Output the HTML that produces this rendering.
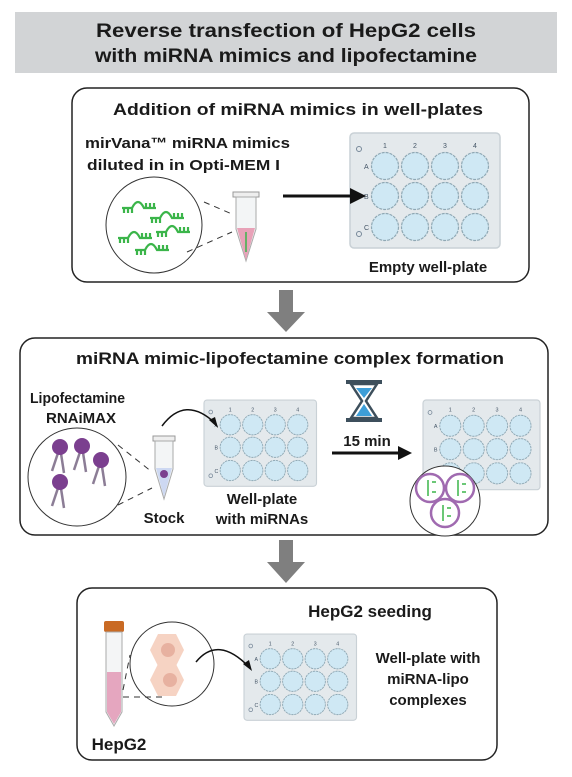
<!DOCTYPE html>
<html><head><meta charset="utf-8"><style>
html,body{margin:0;padding:0;background:#fff;}
svg{display:block;font-family:"Liberation Sans",sans-serif;}
text{font-weight:bold;fill:#1a1a1a;}
</style></head><body>
<svg width="572" height="777" viewBox="0 0 572 777">
<defs>
<g id="plate">
<rect x="0" y="0" width="150" height="115" rx="4" fill="#e4e9ec" stroke="#c9d1d6" stroke-width="1.5"/>
<g fill="#cfe8f4" stroke="#8fa8b4" stroke-width="1.2" stroke-dasharray="3 1">
<circle cx="35" cy="33" r="13.5"/><circle cx="65" cy="33" r="13.5"/><circle cx="95" cy="33" r="13.5"/><circle cx="125" cy="33" r="13.5"/>
<circle cx="35" cy="63" r="13.5"/><circle cx="65" cy="63" r="13.5"/><circle cx="95" cy="63" r="13.5"/><circle cx="125" cy="63" r="13.5"/>
<circle cx="35" cy="94" r="13.5"/><circle cx="65" cy="94" r="13.5"/><circle cx="95" cy="94" r="13.5"/><circle cx="125" cy="94" r="13.5"/>
</g>
<g font-size="7" font-weight="normal" fill="#456">
<text x="33" y="15" style="font-weight:normal;fill:#456">1</text><text x="63" y="15" style="font-weight:normal;fill:#456">2</text><text x="93" y="15" style="font-weight:normal;fill:#456">3</text><text x="123" y="15" style="font-weight:normal;fill:#456">4</text>
<text x="14" y="36" style="font-weight:normal;fill:#456">A</text><text x="14" y="66" style="font-weight:normal;fill:#456">B</text><text x="14" y="97" style="font-weight:normal;fill:#456">C</text>
</g>
<circle cx="9" cy="16" r="2.5" fill="none" stroke="#789"/><circle cx="9" cy="101" r="2.5" fill="none" stroke="#789"/>
</g>
<g id="rna" stroke="#3bb54a" stroke-width="2.2" fill="none">
<path d="M0 0 h10 q6 -12 12 0 h12"/>
<path d="M2 0 v5 M6 0 v5 M10 0 v5 M24 0 v-5 M28 0 v-5 M32 0 v-5"/>
</g>
<g id="lipo"><line x1="0" y1="0" x2="-8" y2="24" stroke="#8c7d96" stroke-width="2.5"/><line x1="0" y1="0" x2="4" y2="26" stroke="#8c7d96" stroke-width="2.5"/><circle r="8" fill="#7b3f8f"/></g>
</defs>

<rect x="15" y="12" width="542" height="61" fill="#d2d4d6"/>
<text x="286" y="37" text-anchor="middle" font-size="19" textLength="380" lengthAdjust="spacingAndGlyphs">Reverse transfection of HepG2 cells</text>
<text x="286" y="62" text-anchor="middle" font-size="19" textLength="382" lengthAdjust="spacingAndGlyphs">with miRNA mimics and lipofectamine</text>

<g>
<rect x="72" y="88" width="457" height="194" rx="15" fill="#fff" stroke="#222" stroke-width="1.5"/>
<text x="298" y="115" text-anchor="middle" font-size="17" textLength="370" lengthAdjust="spacingAndGlyphs">Addition of miRNA mimics in well-plates</text>
<text x="85" y="148" font-size="15" textLength="205" lengthAdjust="spacingAndGlyphs">mirVana™ miRNA mimics</text>
<text x="87" y="170" font-size="15" textLength="193" lengthAdjust="spacingAndGlyphs">diluted in in Opti-MEM I</text>
<circle cx="154" cy="225" r="48" fill="#fff" stroke="#333" stroke-width="1"/>
<use href="#rna" x="122" y="208"/><use href="#rna" x="150" y="218"/><use href="#rna" x="118" y="238"/><use href="#rna" x="156" y="232"/><use href="#rna" x="135" y="250"/>
<path d="M204 202 L232 214 M187 252 L232 232" stroke="#333" stroke-dasharray="6 5"/>
<g>
<rect x="233" y="192" width="26" height="5" fill="#eee" stroke="#999"/>
<path d="M236 197 h20 v32 l-10 32 l-10 -32 z" fill="#f3f5f6" stroke="#aaa"/>
<path d="M237 228 h18 l-9 32 z" fill="#e8a2b8"/>
<path d="M246 232 v20" stroke="#3bb54a" stroke-width="1.5"/>
</g>
<g transform="translate(350,133)"><use href="#plate"/></g>
<line x1="283" y1="196" x2="352" y2="196" stroke="#111" stroke-width="3"/>
<path d="M350 188 L366 196 L350 204 z" fill="#111"/>
<text x="428" y="272" text-anchor="middle" font-size="15">Empty well-plate</text>
</g>

<path d="M279 290 h14 v22 h12 l-19 20 l-19 -20 h12 z" fill="#7f7f7f"/>

<g>
<rect x="20" y="338" width="528" height="197" rx="15" fill="#fff" stroke="#222" stroke-width="1.5"/>
<text x="290" y="364" text-anchor="middle" font-size="17" textLength="428" lengthAdjust="spacingAndGlyphs">miRNA mimic-lipofectamine complex formation</text>
<text x="30" y="403" font-size="15" textLength="95" lengthAdjust="spacingAndGlyphs">Lipofectamine</text>
<text x="46" y="423" font-size="15">RNAiMAX</text>
<circle cx="77" cy="477" r="49" fill="#fff" stroke="#333"/>
<use href="#lipo" x="60" y="447"/><use href="#lipo" x="82" y="446"/><use href="#lipo" x="101" y="460"/><use href="#lipo" x="60" y="482"/>
<path d="M118 445 L152 472 M118 505 L152 488" stroke="#333" stroke-dasharray="6 5"/>
<g>
<rect x="153" y="436" width="22" height="5" fill="#eee" stroke="#999"/>
<path d="M155 441 h18 v28 l-9 30 l-9 -30 z" fill="#f3f5f6" stroke="#aaa"/>
<path d="M156 468 h16 l-8 29 z" fill="#cdd8f2"/>
<circle cx="164" cy="474" r="4" fill="#7b3f8f"/>
</g>
<text x="164" y="523" text-anchor="middle" font-size="15">Stock</text>
<g transform="translate(204,400) scale(0.75)"><use href="#plate"/></g>
<path d="M162 426 Q185 395 215 423" fill="none" stroke="#111" stroke-width="1.5"/>
<path d="M209 420 L218 428 L215 417 z" fill="#111"/>
<text x="262" y="504" text-anchor="middle" font-size="15">Well-plate</text>
<text x="262" y="524" text-anchor="middle" font-size="15">with miRNAs</text>
<g>
<rect x="346" y="380" width="36" height="4" fill="#3d4f5c"/><rect x="346" y="418" width="36" height="4" fill="#3d4f5c"/>
<path d="M351 384 h26 l-11 17 l11 17 h-26 l11 -17 z" fill="#fff" stroke="#3d4f5c" stroke-width="2.5"/>
<path d="M356 416 l8 -12 l8 12 z M356 388 h16 l-8 10 z" fill="#3d9ed8"/>
</g>
<text x="367" y="446" text-anchor="middle" font-size="15">15 min</text>
<line x1="332" y1="453" x2="400" y2="453" stroke="#111" stroke-width="3"/>
<path d="M398 446 L412 453 L398 460 z" fill="#111"/>
<g transform="translate(423,400) scale(0.78)"><use href="#plate"/></g>
<circle cx="445" cy="501" r="35" fill="#fff" stroke="#333"/>
<g fill="none" stroke="#a06ab0" stroke-width="2.5"><circle cx="430" cy="488" r="14"/><circle cx="460" cy="488" r="14"/><circle cx="445" cy="513" r="14"/></g>
<g stroke="#3bb54a" stroke-width="1.5" fill="none"><path d="M428 480 v16 M432 482 h4 M432 492 h4"/><path d="M458 480 v16 M462 484 h4 M462 492 h4"/><path d="M443 505 v16 M447 508 h4 M447 516 h4"/></g>
</g>

<path d="M279 540 h14 v22 h12 l-19 21 l-19 -21 h12 z" fill="#7f7f7f"/>

<g>
<rect x="77" y="588" width="420" height="172" rx="15" fill="#fff" stroke="#222" stroke-width="1.5"/>
<text x="370" y="617" text-anchor="middle" font-size="17">HepG2 seeding</text>
<g>
<rect x="104" y="621" width="20" height="11" rx="2" fill="#c96a24"/>
<path d="M106 632 h16 v80 l-8 14 l-8 -14 z" fill="#f4f5f6" stroke="#aaa"/>
<path d="M107 672 h14 v40 l-7 12 l-7 -12 z" fill="#e5a6bf"/>
</g>
<circle cx="172" cy="664" r="42" fill="#fff" stroke="#333"/>
<path d="M150 650 l8 -16 h18 l8 16 l-8 16 h-18 z" fill="#f6d3c3"/><circle cx="168" cy="650" r="7" fill="#e7b1a0"/>
<path d="M150 680 l8 -16 h18 l8 16 l-8 16 h-18 z" fill="#f6d3c3"/><circle cx="170" cy="680" r="7" fill="#e7b1a0"/>
<path d="M123 697 H165 M123 690 L130 655" stroke="#333" stroke-dasharray="6 5" fill="none"/>
<g transform="translate(244,634) scale(0.75)"><use href="#plate"/></g>
<path d="M196 662 Q218 635 249 667" fill="none" stroke="#111" stroke-width="1.5"/>
<path d="M243 664 L252 671 L249 660 z" fill="#111"/>
<text x="428" y="663" text-anchor="middle" font-size="15">Well-plate with</text>
<text x="428" y="684" text-anchor="middle" font-size="15">miRNA-lipo</text>
<text x="428" y="705" text-anchor="middle" font-size="15">complexes</text>
<text x="119" y="750" text-anchor="middle" font-size="17">HepG2</text>
</g>
</svg>
</body></html>
